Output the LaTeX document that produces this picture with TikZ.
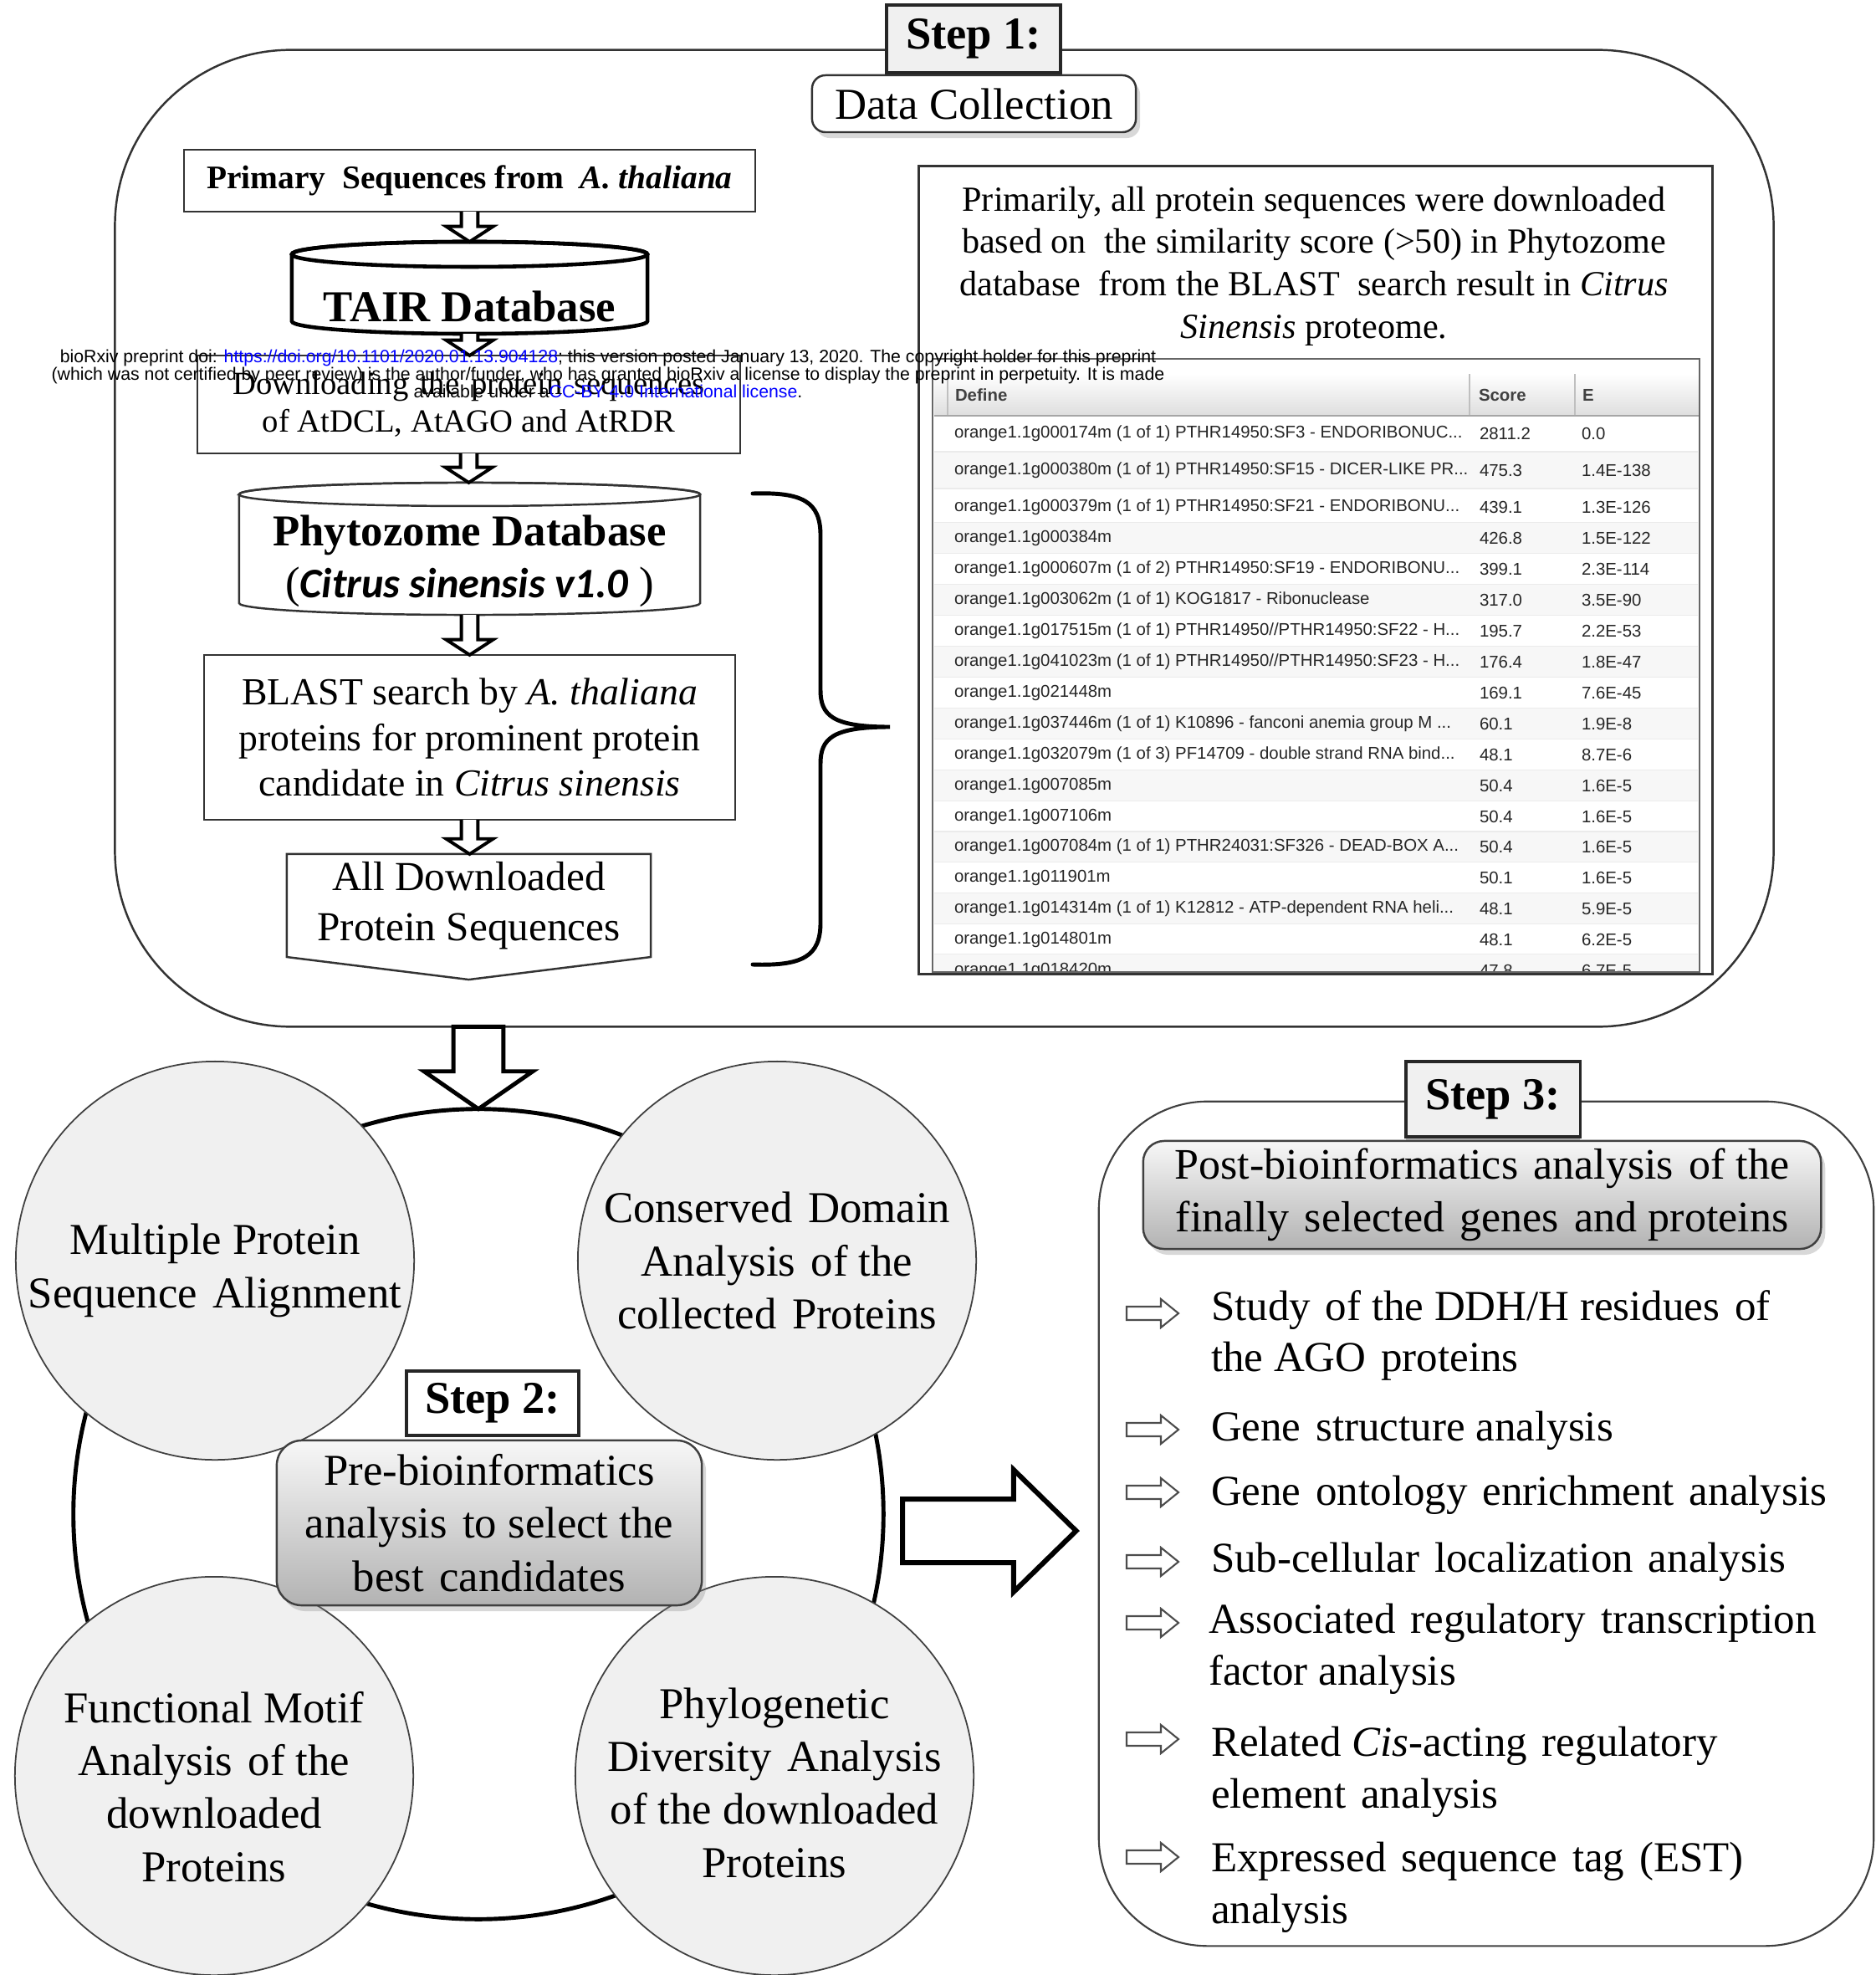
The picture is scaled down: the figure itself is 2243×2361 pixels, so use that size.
\documentclass[tikz,border=0pt]{standalone}
\usepackage{fontspec}
\setmainfont{Liberation Serif}
\newfontfamily\sansf{Liberation Sans}
\newfontfamily\calib{Carlito}
\usetikzlibrary{calc,shadows}
\definecolor{circfill}{gray}{0.94}
\definecolor{linkblue}{rgb}{0,0,1}
\newcommand\fsz[2]{\fontsize{#1}{#2}\selectfont}
\newcommand\dsp{\hspace{0.35em}}
\tikzset{
  every node/.style={inner sep=0pt, outer sep=0pt},
  thinbox/.style={draw=black!80, line width=0.7pt, fill=white},
  steplabel/.style={draw=black!85, line width=0.9pt, fill=black!6, minimum width=2.08cm, font=\fsz{15.5}{18}\bfseries},
  softshadow/.style={drop shadow={shadow xshift=0.5mm, shadow yshift=-0.7mm, opacity=0.3}},
  gradbox/.style={draw=black!75, line width=0.7pt, rounded corners=3mm, top color=black!3, bottom color=black!30, align=center, font=\fsz{15}{18}, softshadow},
  bigcirc/.style={circle, draw=black!75, line width=0.5pt, fill=circfill, minimum size=4.76cm},
  circtxt/.style={align=center, font=\fsz{15}{18}},
  hollow/.style={draw=black, line width=1.1pt, fill=white, line join=miter},
  listtxt/.style={anchor=west, align=left, font=\fsz{14.5}{17.6}},
  tabtxt/.style={anchor=west, font=\sansf\fsz{5.8}{7}, text=black!85},
  tabhead/.style={anchor=west, font=\sansf\bfseries\fsz{5.8}{7}, text=black!75},
}
\newcommand\darrow[2]{%
  \draw[hollow] let \p1=(#1), \p2=(#2) in (\x1-2.8pt,\y1) -- (\x1-2.8pt,\y2+5.2pt) -- (\x1-8pt,\y2+5.2pt) -- (\x1,\y2) -- (\x1+8pt,\y2+5.2pt) -- (\x1+2.8pt,\y2+5.2pt) -- (\x1+2.8pt,\y1);}
\newcommand\bularrow[1]{%
  \draw[draw=black!70, line width=0.6pt, fill=white, line join=miter] (1347,#1-8) -- (1388,#1-8) -- (1388,#1-17) -- (1409,#1) -- (1388,#1+17) -- (1388,#1+8) -- (1347,#1+8) -- cycle;}
\newcommand\trow[5]{%
  \node[tabtxt] (r#1d) at (1141,#2) {#3};
  \node[tabtxt] (r#1s) at (1769,#2) {#4};
  \node[tabtxt] (r#1e) at (1891,#2) {#5};}
\begin{document}
\begin{tikzpicture}[x=0.01cm,y=-0.01cm]
\useasboundingbox (0,0) rectangle (2243,2361);
\fill[white] (0,0) rectangle (2243,2361);

% ---------------- Step 1 frame
\node[draw=black!80, line width=0.7pt, rounded corners=21mm, minimum width=19.82cm, minimum height=11.67cm] (s1main) at (1129,643.5) {};
\node[steplabel, minimum height=0.81cm, drop shadow={shadow xshift=0mm, shadow yshift=-0.6mm, opacity=0.5}] (s1lab) at (1164,46.5) {Step 1:};
\node[thinbox, rounded corners=1.6mm, minimum width=3.87cm, minimum height=0.68cm, font=\fsz{15}{18}, softshadow] (datacol) at (1164.5,124) {Data Collection};

% ---------------- left flow
\node[thinbox, minimum width=6.83cm, minimum height=0.74cm, font=\fsz{11.2}{13}\bfseries] (prim) at (561.5,216) {Primary\ \ Sequences from\ \ \textit{A. thaliana}};

\node[minimum width=4.25cm, minimum height=1.10cm] (tair) at (561.5,344) {};
\draw[line width=1.3pt, fill=white] ([yshift=-1.5mm]tair.north west) -- ([yshift=1.5mm]tair.south west) arc[start angle=180,end angle=360,x radius=2.125cm,y radius=1.5mm] -- ([yshift=-1.5mm]tair.north east) arc[start angle=0,end angle=180,x radius=2.125cm,y radius=1.5mm] -- cycle;
\draw[line width=1.3pt] ([yshift=-1.5mm]tair.north) ellipse [x radius=2.125cm, y radius=1.5mm];
\node[font=\fsz{15}{18}\bfseries] (tairt) at (561.5,366) {TAIR Database};

\node[thinbox, minimum width=6.49cm, minimum height=1.17cm, align=center, font=\fsz{11}{12.8}] (down) at (560.5,483.5) {Downloading\dsp the\dsp protein\dsp sequences\\of AtDCL, AtAGO and AtRDR};

\node[minimum width=5.51cm, minimum height=1.58cm] (phyto) at (561.5,656) {};
\draw[line width=0.7pt, draw=black!80, fill=white] ([yshift=-1.4mm]phyto.north west) -- ([yshift=1.4mm]phyto.south west) arc[start angle=180,end angle=360,x radius=2.755cm,y radius=1.4mm] -- ([yshift=-1.4mm]phyto.north east) arc[start angle=0,end angle=180,x radius=2.755cm,y radius=1.4mm] -- cycle;
\draw[line width=0.7pt, draw=black!80] ([yshift=-1.4mm]phyto.north) ellipse [x radius=2.755cm, y radius=1.4mm];
\node[align=center, font=\fsz{15}{17.5}] (phytot) at (561.5,671) {\bfseries Phytozome Database\\({\calib\bfseries\itshape\fsz{14.3}{17.5}Citrus sinensis v1.0} )};

\node[thinbox, minimum width=6.35cm, minimum height=1.97cm, align=center, font=\fsz{13}{15.6}] (blast) at (561.5,881.5) {BLAST search by \textit{A. thaliana}\\proteins for prominent protein\\candidate in \textit{Citrus sinensis}};

\node[minimum width=4.35cm, minimum height=1.23cm, align=center, font=\fsz{14}{17}] (alldl) at (560.5,1082.5) {All Downloaded\\Protein Sequences};
\draw[draw=black!80, line width=0.7pt] (alldl.north west) -- (alldl.north east) -- (alldl.south east) -- ([yshift=-2.7mm]alldl.south) -- (alldl.south west) -- cycle;

\darrow{prim.south}{tair.north}
\darrow{tair.south}{down.north}
\darrow{down.south}{phyto.north}
\darrow{phyto.south}{blast.north}
\darrow{blast.south}{alldl.north}

% brace
\draw[line width=1.4pt, line cap=round] (900,590) .. controls (960,588) and (981,600) .. (981,640) -- (981,825) .. controls (981,855) and (995,869) .. (1064,869) .. controls (995,869) and (981,883) .. (981,913) -- (981,1103) .. controls (981,1143) and (960,1155) .. (900,1153);

% ---------------- right panel
\node[draw=black!80, line width=0.9pt, minimum width=9.48cm, minimum height=9.65cm] (panel) at (1573,681.5) {};
\node[align=center, font=\fsz{12}{14.4}] (ptext) at (1571,318) {Primarily, all protein sequences were downloaded\\based on\ \ the similarity score (>50) in Phytozome\\database\ \ from the BLAST\ \ search result in \textit{Citrus}\\\textit{Sinensis} proteome.};

\node[minimum width=9.17cm, minimum height=7.33cm] (table) at (1573.5,795.5) {};
\begin{scope}
\clip (table.north west) rectangle (table.south east);
\foreach \a/\b in {540/584, 624.5/661.5, 698.5/735.5, 772.5/809.5, 846.5/883.5, 920.5/957.5, 994/1030.5, 1067.5/1104.5, 1140.5/1176}
  \fill[black!3] (1117,\a) rectangle (2030,\b);
\foreach \a in {540,584,624.5,661.5,698.5,735.5,772.5,809.5,846.5,883.5,920.5,957.5,994,1030.5,1067.5,1104.5,1140.5}
  \draw[black!8, line width=0.3pt] (1117,\a) -- (2030,\a);
\node[anchor=north west, top color=white, bottom color=black!13, minimum width=9.13cm, minimum height=0.5cm] (thead) at (1117,447) {};
\draw[black!25, line width=0.4pt] (1133,447) -- (1133,497) (1757,447) -- (1757,497) (1883,447) -- (1883,497);
\draw[black!35, line width=0.5pt] (thead.south west) -- (thead.south east);
\node[tabhead] (hdef) at (1142,472) {Define};
\node[tabhead] (hsc) at (1768,472) {Score};
\node[tabhead] (he) at (1892,472) {E};
\trow{1}{518}{orange1.1g000174m (1 of 1) PTHR14950:SF3 - ENDORIBONUC...}{2811.2}{0.0}
\trow{2}{562}{orange1.1g000380m (1 of 1) PTHR14950:SF15 - DICER-LIKE PR...}{475.3}{1.4E-138}
\trow{3}{606}{orange1.1g000379m (1 of 1) PTHR14950:SF21 - ENDORIBONU...}{439.1}{1.3E-126}
\trow{4}{643}{orange1.1g000384m}{426.8}{1.5E-122}
\trow{5}{680}{orange1.1g000607m (1 of 2) PTHR14950:SF19 - ENDORIBONU...}{399.1}{2.3E-114}
\trow{6}{717}{orange1.1g003062m (1 of 1) KOG1817 - Ribonuclease}{317.0}{3.5E-90}
\trow{7}{754}{orange1.1g017515m (1 of 1) PTHR14950//PTHR14950:SF22 - H...}{195.7}{2.2E-53}
\trow{8}{791}{orange1.1g041023m (1 of 1) PTHR14950//PTHR14950:SF23 - H...}{176.4}{1.8E-47}
\trow{9}{828}{orange1.1g021448m}{169.1}{7.6E-45}
\trow{10}{865}{orange1.1g037446m (1 of 1) K10896 - fanconi anemia group M ...}{60.1}{1.9E-8}
\trow{11}{902}{orange1.1g032079m (1 of 3) PF14709 - double strand RNA bind...}{48.1}{8.7E-6}
\trow{12}{939}{orange1.1g007085m}{50.4}{1.6E-5}
\trow{13}{976}{orange1.1g007106m}{50.4}{1.6E-5}
\trow{14}{1012}{orange1.1g007084m (1 of 1) PTHR24031:SF326 - DEAD-BOX A...}{50.4}{1.6E-5}
\trow{15}{1049}{orange1.1g011901m}{50.1}{1.6E-5}
\trow{16}{1086}{orange1.1g014314m (1 of 1) K12812 - ATP-dependent RNA heli...}{48.1}{5.9E-5}
\trow{17}{1123}{orange1.1g014801m}{48.1}{6.2E-5}
\trow{18}{1160}{orange1.1g018420m}{47.8}{6.7E-5}
\end{scope}
\draw[black!60, line width=0.6pt] (table.north west) rectangle (table.south east);

% ---------------- Step 2
\node[circle, draw=black, line width=1.4pt, minimum size=9.68cm] (ring) at (572,1810) {};
\node[bigcirc] (c1) at (257,1507) {};
\node[bigcirc] (c2) at (929,1507) {};
\node[bigcirc] (c3) at (256,2123) {};
\node[bigcirc] (c4) at (926,2123) {};
\node[circtxt] (c1t) at (257,1519) {Multiple Protein\\Sequence\dsp Alignment};
\node[circtxt] (c2t) at (929,1507) {Conserved\dsp Domain\\Analysis\dsp of the\\collected\dsp Proteins};
\node[circtxt] (c3t) at (256,2136) {Functional Motif\\Analysis\dsp of the\\downloaded\\Proteins};
\node[circtxt] (c4t) at (926,2131) {Phylogenetic\\Diversity\dsp Analysis\\of the downloaded\\Proteins};
\node[steplabel, fill=white, minimum width=2.06cm, minimum height=0.77cm] (s2lab) at (589,1677.5) {Step 2:};
\node[gradbox, minimum width=5.08cm, minimum height=1.97cm] (s2box) at (585,1820.5) {Pre-bioinformatics\\analysis\dsp to select the\\best\dsp candidates};

% big arrow step1 -> step2
\draw[hollow, line width=1.4pt] let \p1=(ring.north), \p2=(s1main.south) in (\x1-8.5pt,\y2) -- (\x1-8.5pt,\y1+12.8pt) -- (\x1-18.5pt,\y1+12.8pt) -- (\x1,\y1) -- (\x1+18.5pt,\y1+12.8pt) -- (\x1+8.5pt,\y1+12.8pt) -- (\x1+8.5pt,\y2) -- cycle;

% ---------------- Step 3
\node[draw=black!75, line width=0.6pt, rounded corners=13mm, minimum width=9.26cm, minimum height=10.09cm] (s3main) at (1777,1821.5) {};
\node[steplabel, minimum height=0.90cm, drop shadow={shadow xshift=0mm, shadow yshift=-0.6mm, opacity=0.5}] (s3lab) at (1785,1314) {Step 3:};
\node[gradbox, rounded corners=2.5mm, minimum width=8.10cm, minimum height=1.29cm, font=\fsz{14.8}{17.8}] (s3box) at (1772,1428.5) {Post-bioinformatics\dsp analysis\dsp of the\\finally\dsp selected\dsp genes\dsp and proteins};

% big arrow step2 -> step3
\draw[hollow, line width=1.7pt] let \p1=(ring.east), \p2=(s3main.west) in (\x1+6.5pt,\y1+5.1pt) -- (\x2-29pt,\y1+5.1pt) -- (\x2-29pt,\y1+15.1pt) -- (\x2-7.7pt,\y1-5.7pt) -- (\x2-29pt,\y1-26.5pt) -- (\x2-29pt,\y1-16.5pt) -- (\x1+6.5pt,\y1-16.5pt) -- cycle;

\bularrow{1570}
\bularrow{1709}
\bularrow{1784}
\bularrow{1867}
\bularrow{1940}
\bularrow{2079}
\bularrow{2220}
\node[listtxt] (li1) at (1448,1596.5) {Study\dsp of the DDH/H residues\dsp of\\the AGO\dsp proteins};
\node[listtxt] (li2) at (1448,1710) {Gene\dsp structure analysis};
\node[listtxt] (li3) at (1448,1787) {Gene\dsp ontology\dsp enrichment\dsp analysis};
\node[listtxt] (li4) at (1448,1867) {Sub-cellular\dsp localization\dsp analysis};
\node[listtxt] (li5) at (1445,1971) {Associated\dsp regulatory\dsp transcription\\factor analysis};
\node[listtxt] (li6) at (1448,2118) {Related \textit{Cis}-acting\dsp regulatory\\element\dsp analysis};
\node[listtxt] (li7) at (1448,2256.5) {Expressed\dsp sequence\dsp tag\dsp (EST)\\analysis};

% ---------------- bioRxiv stamp
\node[font=\sansf\fsz{6.05}{6}, align=center] (biorxiv) at (727,447) {bioRxiv preprint doi: \textcolor{linkblue}{https://doi.org/10.1101/2020.01.13.904128}; this version posted January 13, 2020. The copyright holder for this preprint\\(which was not certified by peer review) is the author/funder, who has granted bioRxiv a license to display the preprint in perpetuity. It is made\\available under a\textcolor{linkblue}{CC-BY 4.0 International license}.};
\end{tikzpicture}
\end{document}
